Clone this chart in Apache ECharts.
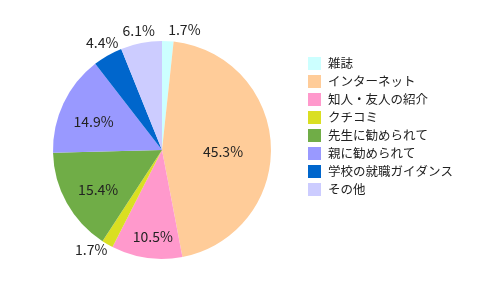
<!DOCTYPE html>
<html>
<head>
<meta charset="utf-8">
<script src="https://cdn.jsdelivr.net/npm/echarts@6/dist/echarts.min.js"></script>
<style>
html,body{margin:0;padding:0;background:#fff;}
#c{width:500px;height:300px;}
</style>
</head>
<body>
<div id="c"></div>
<script>
// ---- data ----
const categories = ['雑誌', 'インターネット', '知人・友人の紹介', 'クチコミ', '先生に勧められて', '親に勧められて', '学校の就職ガイダンス', 'その他'];
const values = [1.7, 45.3, 10.5, 1.7, 15.4, 14.9, 4.4, 6.1];

// ---- style ----
const colors = ['#CCFFFF', '#FFCC99', '#FF99CC', '#DADF22', '#70AD47', '#9999FF', '#0066CC', '#CCCCFF'];
const labelDist = [122, 61, 87, 122, 75, 74, 123, 122];   // label distance from centre (px)
const labelShift = [7.5, 4, -2, 5.4, -2.5, -3, 0.8, 0];   // angular adjustment (deg)
const CX = 162, CY = 150, R = 109;

const chart = echarts.init(document.getElementById('c'), null, {renderer: 'canvas'});
chart.setOption({
  animation: false,
  color: colors,
  legend: {
    orient: 'vertical',
    left: 303,
    top: 52,
    padding: 5,
    itemWidth: 13,
    itemHeight: 13,
    itemGap: 5,
    icon: 'rect',
    data: categories,
    textStyle: {fontFamily: 'Noto Sans CJK JP', fontSize: 12.5, color: '#222', padding: [0, 0, 0, 2]}
  },
  series: [{
    type: 'pie',
    center: [CX, CY],
    radius: [0, R],
    startAngle: 90,
    clockwise: true,
    avoidLabelOverlap: false,
    itemStyle: {borderWidth: 0},
    emphasis: {disabled: true},
    label: {
      show: true,
      position: 'inside',
      formatter: p => p.value.toFixed(1) + '%',
      fontFamily: 'Noto Sans CJK JP',
      fontSize: 14,
      color: '#222'
    },
    labelLine: {show: false},
    labelLayout: function (p) {
      const i = p.dataIndex;
      const r = p.labelRect;
      const lx = r.x + r.width / 2, ly = r.y + r.height / 2;
      const a = Math.atan2(lx - CX, -(ly - CY)) + labelShift[i] * Math.PI / 180;
      const d = labelDist[i];
      return {x: CX + d * Math.sin(a), y: CY - d * Math.cos(a), align: 'center', verticalAlign: 'middle'};
    },
    data: categories.map((n, i) => ({name: n, value: values[i]}))
  }]
});
</script>
</body>
</html>
